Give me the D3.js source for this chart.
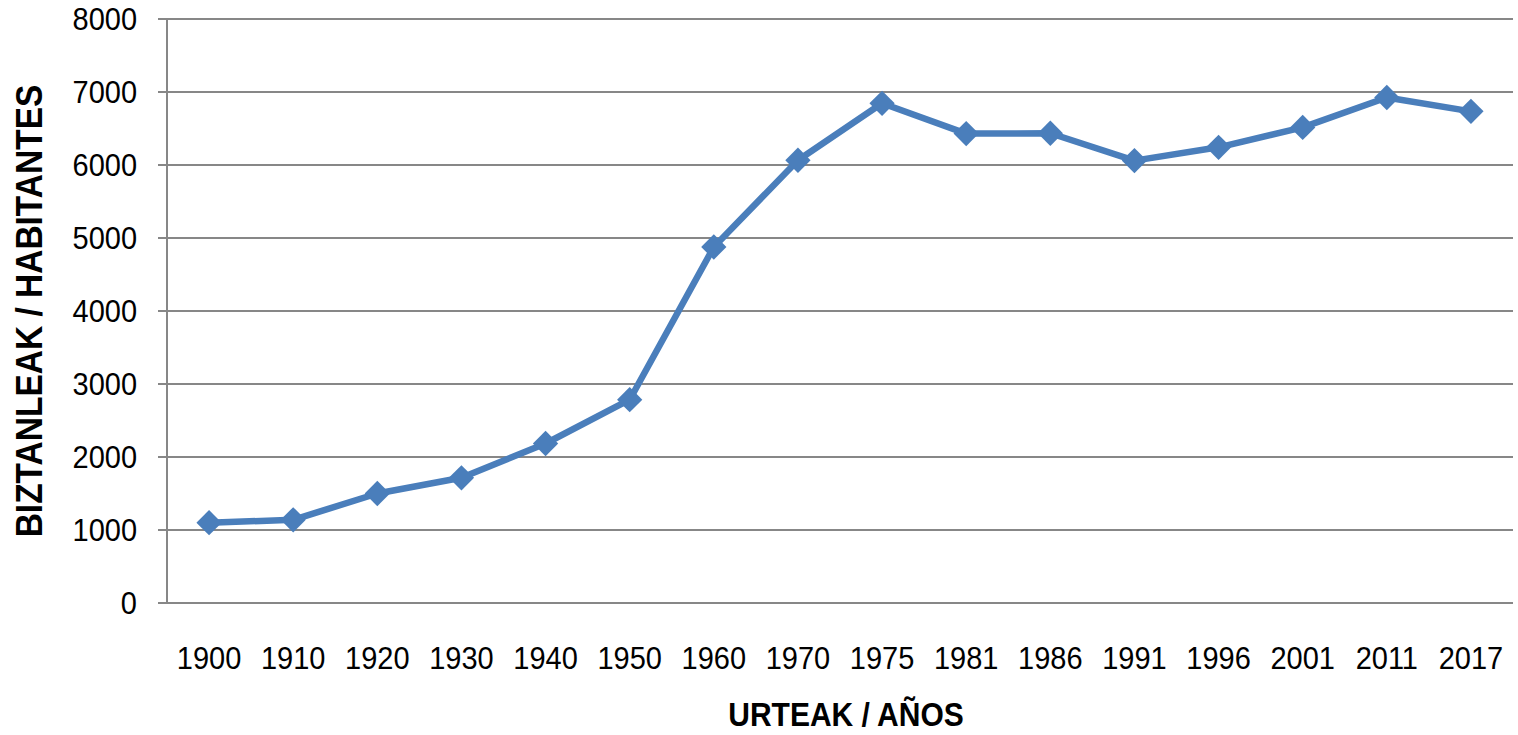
<!DOCTYPE html>
<html>
<head>
<meta charset="utf-8">
<script src="https://cdn.jsdelivr.net/npm/d3@7"></script>
<style>
  html, body { margin: 0; padding: 0; background: #fff; }
  svg { display: block; }
  text { font-family: "Liberation Sans", Arial, sans-serif; fill: #000; }
</style>
</head>
<body>
<svg id="chart" width="1518" height="735"></svg>
<script>
const years = ["1900","1910","1920","1930","1940","1950","1960","1970","1975","1981","1986","1991","1996","2001","2011","2017"];
const population = [1100, 1140, 1500, 1715, 2185, 2785, 4877, 6065, 6845, 6430, 6435, 6060, 6242, 6515, 6925, 6735];
const yTicks = [0, 1000, 2000, 3000, 4000, 5000, 6000, 7000, 8000];
const xTitle = "URTEAK / AÑOS";
const yTitle = "BIZTANLEAK / HABITANTES";

(function () {
const svg = d3.select("#chart");
const mLeft = 167, mRight = 1513, mTop = 19, mBottom = 603;
const stretch = 1.1;

const x = d3.scaleBand().domain(years).range([mLeft, mRight]);
const y = d3.scaleLinear().domain([0, 8000]).range([mBottom, mTop]);

// gridlines
svg.append("g").selectAll("line").data(yTicks).join("line")
  .attr("x1", mLeft - 9).attr("x2", mRight)
  .attr("y1", d => y(d)).attr("y2", d => y(d))
  .attr("stroke", "#878787").attr("stroke-width", 2);

// y axis line
svg.append("line").attr("x1", mLeft).attr("x2", mLeft).attr("y1", mTop).attr("y2", mBottom)
  .attr("stroke", "#878787").attr("stroke-width", 2);

// y tick labels
svg.append("g").selectAll("text").data(yTicks).join("text")
  .attr("transform", d => `translate(137,${y(d) + 10.5}) scale(1,${stretch})`)
  .attr("text-anchor", "end").attr("font-size", 29)
  .text(d => d);

// x tick labels
svg.append("g").selectAll("text").data(years).join("text")
  .attr("transform", d => `translate(${x(d) + x.bandwidth() / 2},669) scale(1,${stretch})`)
  .attr("text-anchor", "middle").attr("font-size", 29)
  .text(d => d);

// line
const line = d3.line().x((d, i) => x(years[i]) + x.bandwidth() / 2).y(d => y(d));
svg.append("path").datum(population).attr("d", line)
  .attr("fill", "none").attr("stroke", "#4a7ebb").attr("stroke-width", 6.5)
  .attr("stroke-linejoin", "round");

// markers
svg.append("g").selectAll("path").data(population).join("path")
  .attr("d", d3.symbol().type(d3.symbolSquare).size(320))
  .attr("transform", (d, i) => `translate(${x(years[i]) + x.bandwidth() / 2},${y(d)}) rotate(45)`)
  .attr("fill", "#4a7ebb");

// axis titles
svg.append("text").attr("transform", `translate(846,726) scale(1,${stretch})`).attr("text-anchor", "middle")
  .attr("font-size", 30).attr("font-weight", "bold").text(xTitle);
svg.append("text").attr("transform", `translate(42,311) rotate(-90) scale(1,${stretch})`)
  .attr("text-anchor", "middle").attr("font-size", 33.5).attr("font-weight", "bold").text(yTitle);
})();
</script>
</body>
</html>
